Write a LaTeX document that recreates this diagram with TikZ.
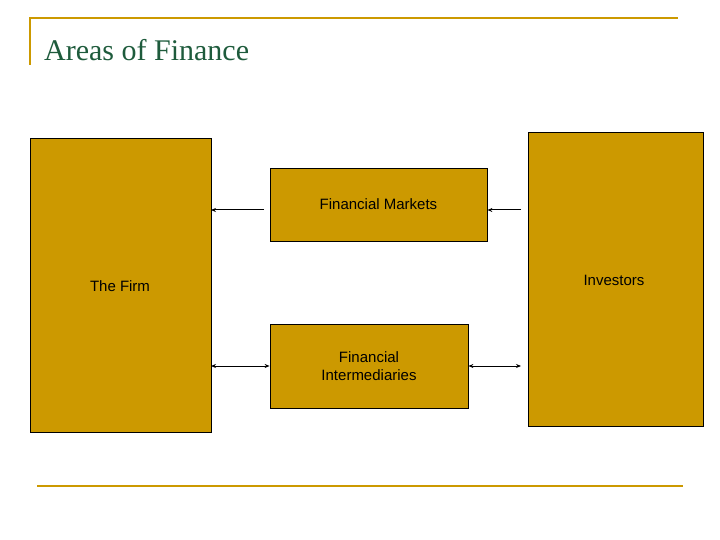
\documentclass[tikz,border=0pt]{standalone}
\usepackage{fontspec}
\setmainfont{Liberation Sans}
\newfontfamily\titlefont{Liberation Serif}
\usetikzlibrary{arrows.meta}
\definecolor{gold}{HTML}{CC9900}
\definecolor{ttl}{HTML}{1E5B3C}
\begin{document}
\begin{tikzpicture}[x=1pt,y=-1pt,
  box/.style={draw=black,fill=gold,line width=0.8pt},
  lbl/.style={font=\fontsize{15}{18}\selectfont,align=center,inner sep=0},
  arr/.style={line width=1pt,-{Stealth[length=5pt,width=4pt]}},
  darr/.style={line width=1pt,{Stealth[length=5pt,width=4pt]}-{Stealth[length=5pt,width=4pt]}}]
\useasboundingbox (0,0) rectangle (720,540);
\draw[gold,line width=1.2pt] (30,65) -- (30,18) -- (678,18);
\draw[gold,line width=1.2pt] (37,486) -- (683,486);
\node[anchor=west,text=ttl,inner sep=0,font=\titlefont\fontsize{30}{34}\selectfont] (title) at (44,50) {Areas of Finance};
\draw[box] (30,138) rectangle (211,432);
\coordinate (firmE) at (211,210);
\coordinate (firmE2) at (211,366);
\draw[box] (528,132) rectangle (703,426);
\coordinate (invW) at (528,210);
\coordinate (invW2) at (528,366);
\node[lbl] (firm) at (120,286) {The Firm};
\node[lbl] (inv) at (614,280) {Investors};
\node[box,minimum width=217pt,minimum height=73pt,lbl,inner sep=0] (mkt) at (378.5,204.5) {Financial Markets};
\node[box,minimum width=198pt,minimum height=84pt,lbl,inner sep=0] (int) at (369,366) {Financial\\Intermediaries};
\coordinate (m1) at (264,210);
\coordinate (m2) at (521,210);
\coordinate (i2) at (521,366);
\draw[arr] (m1) -- (firmE);
\draw[arr] (m2) -- (mkt.east |- m2);
\draw[darr] (firmE2) -- (int.west |- firmE2);
\draw[darr] (int.east |- i2) -- (i2);
\end{tikzpicture}
\end{document}
